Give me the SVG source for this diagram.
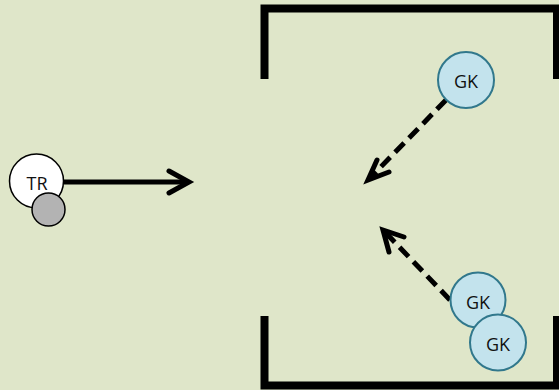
<svg xmlns="http://www.w3.org/2000/svg" width="559" height="390" viewBox="0 0 559 390">
  <style>
    .wall { fill: none; stroke: #000; stroke-width: 8; stroke-linejoin: miter; }
    .gk circle { fill: #c3e3ed; stroke: #31788c; stroke-width: 2; }
    .lbl { font-family: "Open Sans", "Liberation Sans", sans-serif; font-size: 18px; fill: #111; text-anchor: middle; dominant-baseline: central; }
    .move { fill: none; stroke: #000; stroke-width: 5; }
    .dash { stroke-dasharray: 13 7; }
    .head { fill: none; stroke: #000; stroke-width: 5; stroke-linecap: round; stroke-linejoin: miter; }
  </style>
  <rect width="559" height="390" fill="#dfe6c9"/>

  <!-- goal frame -->
  <g id="goal">
    <path class="wall" d="M264.5,79 V8.5 H557 V79"/>
    <path class="wall" d="M264.5,316 V385.5 H557 V316"/>
  </g>

  <!-- movements -->
  <g id="connectors">
    <line class="move" x1="64" y1="182" x2="188" y2="182"/>
    <polyline class="head" points="169,171 189,182 169,193"/>

    <line class="move dash" x1="446" y1="100" x2="371" y2="177"/>
    <polyline class="head" points="377,160 368,180 389,172"/>

    <line class="move dash" x1="450" y1="300" x2="386" y2="233"/>
    <polyline class="head" points="389,252 383,230 404,237"/>
  </g>

  <!-- players -->
  <g id="tr">
    <circle cx="36.5" cy="181" r="27" fill="#fff" stroke="#000" stroke-width="1.5"/>
    <text class="lbl" x="37" y="183">TR</text>
    <circle cx="48.5" cy="209.5" r="16.5" fill="#b3b3b3" stroke="#000" stroke-width="1.5"/>
  </g>

  <g id="gk-top" class="gk">
    <circle cx="466" cy="80" r="28"/>
    <text class="lbl" x="466" y="81">GK</text>
  </g>

  <g id="gk-mid" class="gk">
    <circle cx="478" cy="300" r="27.5"/>
    <text class="lbl" x="478" y="302">GK</text>
  </g>

  <g id="gk-low" class="gk">
    <circle cx="498" cy="342.5" r="28"/>
    <text class="lbl" x="498" y="344">GK</text>
  </g>
</svg>
